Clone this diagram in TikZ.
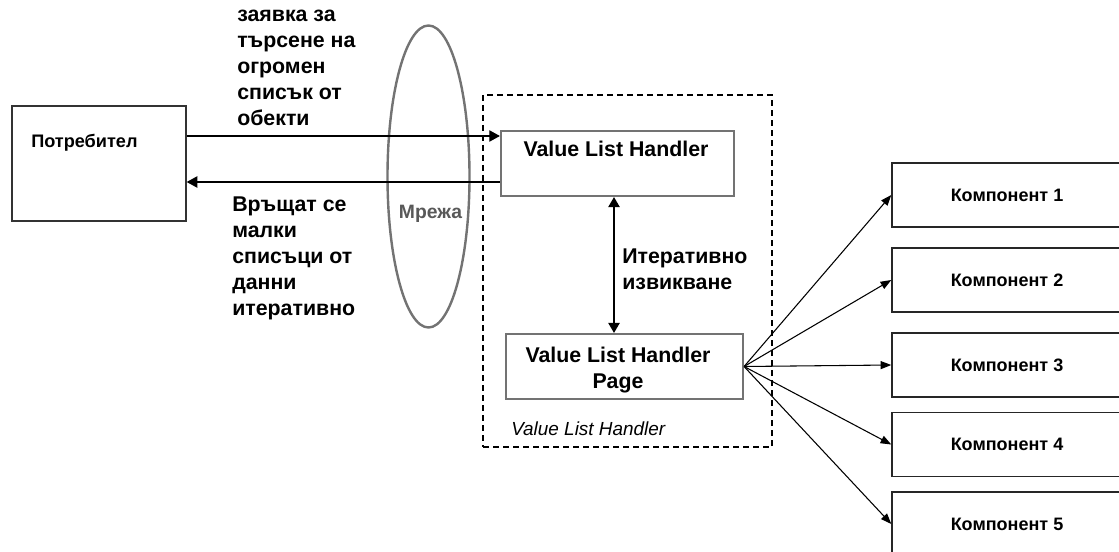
\documentclass[tikz,border=0pt]{standalone}
\usepackage{fontspec}
\setmainfont{Liberation Sans}
\usetikzlibrary{shapes.geometric,arrows.meta,calc}
\begin{document}
\begin{tikzpicture}[x=0.75pt,y=-0.75pt,
  box/.style={draw=black!80,line width=1pt,rectangle,inner sep=0pt},
  grbox/.style={draw=black!55,line width=1.6pt,rectangle,inner sep=0pt},
  comp/.style={draw=black!85,line width=1.1pt,rectangle,inner sep=0pt,
    minimum width=172.5pt,minimum height=48pt,
    font=\fontsize{13.5}{15}\selectfont\bfseries},
  txt/.style={inner sep=0pt,align=left,font=\fontsize{16}{19.5}\selectfont\bfseries},
  arr/.style={line width=1pt,-{Triangle[length=8pt,width=8.5pt]}},
  darr/.style={line width=1pt,{Triangle[length=7.5pt,width=8.5pt]}-{Triangle[length=7.5pt,width=8.5pt]}},
  fan/.style={line width=0.8pt,-{Triangle[length=8pt,width=6pt]}}
]
\path[use as bounding box,fill=white] (0,0) rectangle (1119,552);
\clip (0,0) rectangle (1119,552);

% client
\node[box,minimum width=130.5pt,minimum height=86.25pt] (user) at (99,163.5) {};
\node[inner sep=0pt,anchor=base west,font=\fontsize{13.6}{16}\selectfont\bfseries] (usertxt) at (31,148) {Потребител};

% network
\node[ellipse,draw=black!55,line width=1.8pt,minimum width=61.5pt,minimum height=226.5pt,inner sep=0pt] (net) at (428.5,176.5) {};
\node[inner sep=0pt,anchor=base,text=black!65,font=\fontsize{14.5}{16}\selectfont\bfseries] (nettxt) at (430.5,219) {Мрежа};

% value list handler group
\node[draw=black,line width=0.8pt,dash pattern=on 4.5pt off 3pt,rectangle,inner sep=0pt,
  minimum width=216.75pt,minimum height=264pt] (group) at (627.5,271) {};
\node[inner sep=0pt,anchor=base west,font=\fontsize{14.2}{16}\selectfont\itshape] (grouptxt) at (511,435) {Value List Handler};

\node[grbox,minimum width=174.75pt,minimum height=48.75pt] (vlh) at (617.5,163.5) {};
\node[txt,anchor=base] (vlhtxt) at (616,157) {Value List Handler};

\node[grbox,minimum width=177.75pt,minimum height=48.75pt] (page) at (624.5,366.5) {};
\node[txt,anchor=base,align=center] (pagetxt) at (618,388) {Value List Handler\\Page};

% request / response
\coordinate (reqy) at (0,136);
\coordinate (resy) at (0,182);
\draw[arr] (user.east |- reqy) -- (vlh.west |- reqy);
\draw[arr] (vlh.west |- resy) -- (user.east |- resy);
\node[txt,anchor=base west] (reqtxt) at (237,126) {заявка за\\търсене на\\огромен\\списък от\\обекти};
\node[txt,anchor=base west] (restxt) at (232,315) {Връщат се\\малки\\списъци от\\данни\\итеративно};

% iterative call
\coordinate (callx) at (614,0);
\draw[darr] (vlh.south -| callx) -- (page.north -| callx);
\node[txt,anchor=base west] (calltxt) at (622,289) {Итеративно\\извикване};

% components
\node[comp] (c1) at (1007,195) {Компонент 1};
\node[comp] (c2) at (1007,280) {Компонент 2};
\node[comp] (c3) at (1007,365) {Компонент 3};
\node[comp] (c4) at (1007,444.5) {Компонент 4};
\node[comp] (c5) at (1007,524) {Компонент 5};
\foreach \c in {c1,c2,c3,c4,c5}
  \draw[fan] (page.east) -- (\c.west);
\end{tikzpicture}
\end{document}
